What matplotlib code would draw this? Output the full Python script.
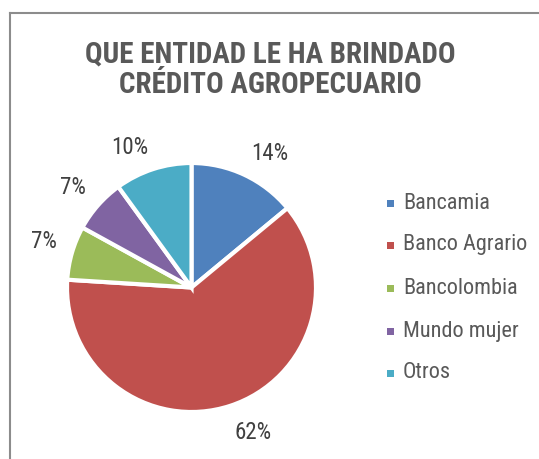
import matplotlib
matplotlib.use("Agg")
import matplotlib.pyplot as plt
import numpy as np
from matplotlib.patches import Rectangle
from matplotlib.lines import Line2D
from matplotlib import font_manager

categories = ["Bancamia", "Banco Agrario", "Bancolombia", "Mundo mujer", "Otros"]
values = [14, 62, 7, 7, 10]
labels = ["14%", "62%", "7%", "7%", "10%"]
colors = ["#4F81BD", "#C0504D", "#9BBB59", "#8064A2", "#4BACC6"]
title = "QUE ENTIDAD LE HA BRINDADO\nCRÉDITO AGROPECUARIO"

names = {f.name for f in font_manager.fontManager.ttflist}
narrow = "DejaVu Sans"
for cand in ["Liberation Sans Narrow", "Arial Narrow", "Roboto Condensed", "Archivo Narrow", "PT Sans Narrow"]:
    if cand in names:
        narrow = cand
        break

W, H = 539, 459
fig = plt.figure(figsize=(W / 100, H / 100), dpi=100)
fig.patch.set_facecolor("white")

# chart frame (top & left visible)
fig.add_artist(Line2D([10 / W, 1.0], [1 - 13 / H, 1 - 13 / H], color="#8c8c8c", lw=1.5))
fig.add_artist(Line2D([10 / W, 10 / W], [0, 1 - 13 / H], color="#8c8c8c", lw=1.5))

# cropped text above the frame (only its lowest part is visible)
fig.text(85 / W, 1 + 4.5 / H, "(14%), Otros, Mundo mujer (10%),", ha="left", va="baseline",
         fontsize=12, family="Liberation Sans", color="black")

fig.text(270 / W, 1 - 70 / H, title, ha="center", va="center", fontsize=21,
         fontweight="bold", family=narrow, color="#595959", linespacing=1.1)

cx, cy, r = 191.5, 287.5, 124.5
ax = fig.add_axes([(cx - r) / W, (H - cy - r) / H, 2 * r / W, 2 * r / H])
wedges, _ = ax.pie(values, colors=colors, startangle=90, counterclock=False,
                   radius=1.0, wedgeprops=dict(edgecolor="white", linewidth=3))
ax.set_xlim(-1, 1)
ax.set_ylim(-1, 1)
ax.axis("off")

for w, lab in zip(wedges, labels):
    ang = np.deg2rad((w.theta1 + w.theta2) / 2)
    c, s = np.cos(ang), np.sin(ang)
    d = 1.13
    ax.text(d * c, d * s, lab, ha="left" if c > 0 else "right",
            va="baseline" if s > 0 else "top", fontsize=16.5, family=narrow,
            color="#404040", clip_on=False)

# legend
ys = [203, 245, 288, 331, 373]
for cat, col, y in zip(categories, colors, ys):
    fig.add_artist(Rectangle(((387) / W, 1 - (y + 3.5) / H), 7 / W, 7 / H,
                             facecolor=col, edgecolor="none"))
    fig.text(403 / W, 1 - y / H, cat, ha="left", va="center", fontsize=16,
             family=narrow, color="#595959")

fig.savefig("out.png", dpi=100, facecolor="white")
